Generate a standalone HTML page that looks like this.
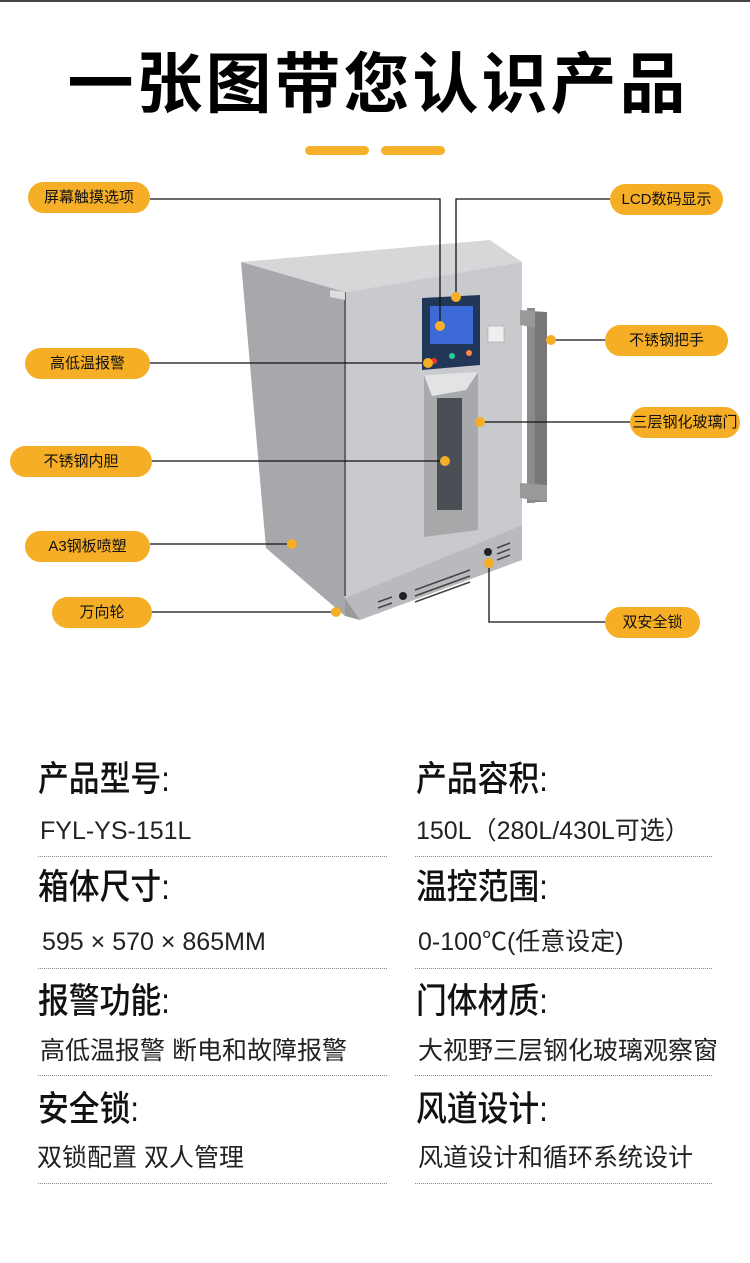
<!DOCTYPE html>
<html><head><meta charset="utf-8"><style>
body{margin:0;width:750px;height:1263px;background:#fff;position:relative;overflow:hidden;font-family:"Liberation Sans","Noto Sans CJK SC",sans-serif;}
.a{position:absolute;}
.topline{left:0;top:0;width:750px;height:2px;background:#444;}
.title{left:3px;width:750px;top:44px;text-align:center;font-size:66px;letter-spacing:3px;font-weight:700;color:#000;line-height:80px;}
.bar{top:146px;height:9px;background:#f5b12b;border-radius:5px;}
.pill{background:#f5ae25;border-radius:16px;height:31px;line-height:31px;font-size:15px;color:#111;text-align:center;}
.h{font-size:35px;color:#111;line-height:40px;font-weight:500;transform:scaleX(0.88);transform-origin:left;}
.v{font-size:25px;color:#222;line-height:28px;}
.dl{height:0;border-top:1px dotted #888;}
</style></head><body>
<div class="a topline"></div>
<div class="a title">一张图带您认识产品</div>
<div class="a bar" style="left:305px;width:64px"></div>
<div class="a bar" style="left:381px;width:64px"></div>

<svg class="a" style="left:0;top:0" width="750" height="700">
<polygon points="241,262 490,240 522,262 345,292" fill="#d6d7d9"/>
<polygon points="241,262 345,292 345,616 266,548" fill="#a7a8ab"/>
<polygon points="345,292 522,262 522,525 345,598" fill="#c9cacd"/>
<polygon points="345,598 522,525 522,560 360,620" fill="#b9babd"/>
<polygon points="345,598 360,620 345,616" fill="#999"/>
<line x1="345" y1="292" x2="345" y2="596" stroke="#666" stroke-width="2"/>
<polygon points="330,290 345,292 345,300 330,297" fill="#ddd"/>
<g stroke="#444" stroke-width="1.5">
<line x1="378" y1="602" x2="392" y2="597"/><line x1="378" y1="608" x2="392" y2="603"/>
<line x1="415" y1="590" x2="470" y2="570"/><line x1="415" y1="596" x2="470" y2="576"/><line x1="415" y1="602" x2="470" y2="582"/>
<line x1="497" y1="560" x2="510" y2="555"/><line x1="497" y1="554" x2="510" y2="549"/><line x1="497" y1="548" x2="510" y2="543"/>
</g>
<circle cx="403" cy="596" r="4" fill="#222"/><circle cx="488" cy="552" r="4" fill="#222"/>
<polygon points="422,298 480,295 480,365 422,370" fill="#223758"/>
<rect x="430" y="306" width="43" height="38" fill="#3c6bd8"/>
<circle cx="434" cy="361" r="3" fill="#e33"/><circle cx="452" cy="356" r="3" fill="#2c9"/><circle cx="469" cy="353" r="3" fill="#f84"/>
<rect x="488" y="326" width="16" height="16" fill="#eee" stroke="#999" stroke-width=".5"/>
<polygon points="424,375 478,372 478,530 424,537" fill="#a8a9ab"/>
<polygon points="424,375 478,372 466,390 432,396" fill="#e2e3e5"/>
<rect x="437" y="398" width="25" height="112" fill="#4a4f55"/>
<rect x="527" y="308" width="8" height="195" fill="#8a8b8d"/>
<polygon points="520,310 547,312 547,330 520,325" fill="#999"/>
<rect x="535" y="312" width="12" height="190" fill="#777"/>
<polygon points="520,483 547,485 547,502 520,498" fill="#999"/>
<g stroke="#111" stroke-width="1.3" fill="none">
<polyline points="150,199 440,199 440,326"/>
<polyline points="610,199 456,199 456,297"/>
<line x1="150" y1="363" x2="428" y2="363"/>
<line x1="550" y1="340" x2="605" y2="340"/>
<line x1="480" y1="422" x2="630" y2="422"/>
<line x1="152" y1="461" x2="445" y2="461"/>
<line x1="150" y1="544" x2="292" y2="544"/>
<line x1="152" y1="612" x2="335" y2="612"/>
<polyline points="489,563 489,622 605,622"/>
</g>
<g fill="#f5ae25">
<circle cx="440" cy="326" r="5"/><circle cx="456" cy="297" r="5"/><circle cx="428" cy="363" r="5"/>
<circle cx="551" cy="340" r="5"/><circle cx="480" cy="422" r="5"/><circle cx="445" cy="461" r="5"/>
<circle cx="292" cy="544" r="5"/><circle cx="336" cy="612" r="5"/><circle cx="489" cy="563" r="5"/>
</g>
</svg>

<div class="a pill" style="left:28px;top:182px;width:122px">屏幕触摸选项</div>
<div class="a pill" style="left:610px;top:184px;width:113px">LCD数码显示</div>
<div class="a pill" style="left:25px;top:348px;width:125px">高低温报警</div>
<div class="a pill" style="left:605px;top:325px;width:123px">不锈钢把手</div>
<div class="a pill" style="left:630px;top:407px;width:110px">三层钢化玻璃门</div>
<div class="a pill" style="left:10px;top:446px;width:142px">不锈钢内胆</div>
<div class="a pill" style="left:25px;top:531px;width:125px">A3钢板喷塑</div>
<div class="a pill" style="left:52px;top:597px;width:100px">万向轮</div>
<div class="a pill" style="left:605px;top:607px;width:95px">双安全锁</div>

<div class="a h" style="left:38px;top:760px">产品型号:</div>
<div class="a v" style="left:40px;top:817px">FYL-YS-151L</div>
<div class="a dl" style="left:38px;top:856px;width:349px"></div>
<div class="a h" style="left:38px;top:868px">箱体尺寸:</div>
<div class="a v" style="left:42px;top:928px">595 × 570 × 865MM</div>
<div class="a dl" style="left:38px;top:968px;width:349px"></div>
<div class="a h" style="left:38px;top:982px">报警功能:</div>
<div class="a v" style="left:40px;top:1037px">高低温报警 断电和故障报警</div>
<div class="a dl" style="left:38px;top:1075px;width:349px"></div>
<div class="a h" style="left:38px;top:1090px">安全锁:</div>
<div class="a v" style="left:37px;top:1144px">双锁配置 双人管理</div>
<div class="a dl" style="left:38px;top:1183px;width:349px"></div>

<div class="a h" style="left:416px;top:760px">产品容积:</div>
<div class="a v" style="left:416px;top:817px">150L（280L/430L可选）</div>
<div class="a dl" style="left:415px;top:856px;width:297px"></div>
<div class="a h" style="left:416px;top:868px">温控范围:</div>
<div class="a v" style="left:418px;top:928px">0-100℃(任意设定)</div>
<div class="a dl" style="left:415px;top:968px;width:297px"></div>
<div class="a h" style="left:416px;top:982px">门体材质:</div>
<div class="a v" style="left:418px;top:1037px">大视野三层钢化玻璃观察窗</div>
<div class="a dl" style="left:415px;top:1075px;width:297px"></div>
<div class="a h" style="left:416px;top:1090px">风道设计:</div>
<div class="a v" style="left:418px;top:1144px">风道设计和循环系统设计</div>
<div class="a dl" style="left:415px;top:1183px;width:297px"></div>
</body></html>
